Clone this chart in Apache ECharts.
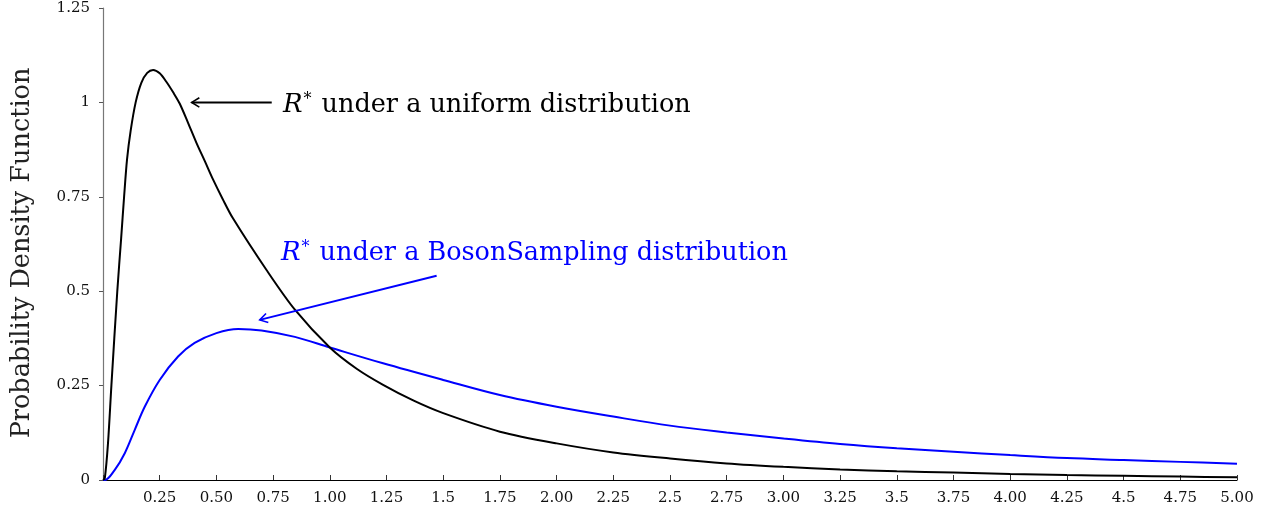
<!DOCTYPE html>
<html>
<head>
<meta charset="utf-8">
<script src="https://cdn.jsdelivr.net/npm/echarts@6/dist/echarts.min.js"></script>
<style>
html,body{margin:0;padding:0;background:#fff;}
#chart{width:1270px;height:515px;}
</style>
</head>
<body>
<div id="chart"></div>
<script>
// ---- data ----
const xTickLabels = ['', '0.25', '0.50', '0.75', '1.00', '1.25', '1.5', '1.75', '2.00', '2.25', '2.5',
  '2.75', '3.00', '3.25', '3.5', '3.75', '4.00', '4.25', '4.5', '4.75', '5.00'];
const yTickLabels = ['0', '0.25', '0.5', '0.75', '1', '1.25'];

// R* under a uniform distribution (black)
const uniformX = [0, 0.008, 0.022, 0.037, 0.063, 0.08, 0.093, 0.106, 0.122, 0.144, 0.169, 0.195, 0.221, 0.25, 0.28,
  0.31, 0.338, 0.375, 0.412, 0.45, 0.485, 0.527, 0.573, 0.721, 0.846, 1.0, 1.12, 1.235, 1.37, 1.5, 1.75, 2.0,
  2.25, 2.5, 2.75, 3.0, 3.25, 3.5, 3.75, 4.0, 4.25, 4.5, 4.75, 5.0];
const uniformY = [0, 0.005, 0.097, 0.25, 0.5, 0.64, 0.75, 0.849, 0.925, 1.0, 1.052, 1.078, 1.086, 1.077, 1.054,
  1.026, 0.997, 0.946, 0.893, 0.843, 0.796, 0.745, 0.693, 0.556, 0.451, 0.351, 0.294, 0.252, 0.21, 0.177,
  0.128, 0.097, 0.073, 0.057, 0.044, 0.035, 0.028, 0.023, 0.020, 0.016, 0.013, 0.011, 0.009, 0.007];

// R* under a BosonSampling distribution (blue)
const bosonX = [0, 0.008, 0.052, 0.096, 0.14, 0.184, 0.25, 0.331, 0.404, 0.5, 0.596, 0.699, 0.846, 1.0, 1.235,
  1.5, 1.75, 2.0, 2.25, 2.5, 2.75, 3.0, 3.25, 3.5, 3.75, 4.0, 4.25, 4.5, 4.75, 5.0];
const bosonY = [0, 0, 0.027, 0.071, 0.133, 0.194, 0.265, 0.327, 0.363, 0.389, 0.40, 0.396, 0.379, 0.351, 0.309,
  0.265, 0.225, 0.194, 0.168, 0.144, 0.126, 0.110, 0.0955, 0.084, 0.075, 0.066, 0.058, 0.053, 0.048, 0.043];

const labelUniform = 'under a uniform distribution';
const labelBoson = 'under a BosonSampling distribution';
const yAxisTitle = 'Probability Density Function';

// annotation arrows in data coordinates: [from, to]
const arrowUniform = [[0.744, 1.0], [0.391, 1.0]];
const arrowBoson = [[1.471, 0.541], [0.691, 0.424]];

const FONT = '"DejaVu Serif", "Liberation Serif", serif';

const chart = echarts.init(document.getElementById('chart'), null, {renderer: 'canvas'});

function pairs(xs, ys) { return xs.map((x, i) => [x, ys[i]]); }

chart.setOption({
  animation: false,
  backgroundColor: '#ffffff',
  grid: {left: 103, right: 33, top: 8, bottom: 35, containLabel: false},
  xAxis: {
    type: 'value', min: 0, max: 5, interval: 0.25,
    axisLine: {lineStyle: {color: '#000', width: 1.2}},
    axisTick: {inside: true, length: 5, lineStyle: {color: '#333', width: 1}},
    splitLine: {show: false},
    axisLabel: {
      margin: 11, color: '#111', fontFamily: FONT, fontSize: 15,
      formatter: (v) => xTickLabels[Math.round(v / 0.25)] || ''
    }
  },
  yAxis: {
    type: 'value', min: 0, max: 1.25, interval: 0.25,
    axisLine: {show: true, lineStyle: {color: '#777', width: 1.2}},
    axisTick: {show: true, length: 4, lineStyle: {color: '#555', width: 1}},
    splitLine: {show: false},
    axisLabel: {
      margin: 13, color: '#111', fontFamily: FONT, fontSize: 15,
      formatter: (v) => yTickLabels[Math.round(v / 0.25)]
    }
  },
  series: [
    {
      name: 'uniform', type: 'line', data: pairs(uniformX, uniformY),
      showSymbol: false, smooth: 0.3,
      lineStyle: {color: '#000', width: 2}, z: 3
    },
    {
      name: 'boson', type: 'line', data: pairs(bosonX, bosonY),
      showSymbol: false, smooth: 0.35,
      lineStyle: {color: '#0000ff', width: 2}, z: 2
    }
  ]
});

function arrowGraphics(arrow, color) {
  const p1 = chart.convertToPixel({gridIndex: 0}, arrow[0]);
  const p2 = chart.convertToPixel({gridIndex: 0}, arrow[1]);
  const ang = Math.atan2(p1[1] - p2[1], p1[0] - p2[0]);
  const L = 9, W = 0.55;
  const a = [p2[0] + L * Math.cos(ang + W), p2[1] + L * Math.sin(ang + W)];
  const b = [p2[0] + L * Math.cos(ang - W), p2[1] + L * Math.sin(ang - W)];
  return [
    {type: 'line', shape: {x1: p1[0], y1: p1[1], x2: p2[0], y2: p2[1]},
     style: {stroke: color, lineWidth: 2}, z: 10},
    {type: 'polyline', shape: {points: [a, p2, b]},
     style: {stroke: color, lineWidth: 1.6, fill: null}, z: 10}
  ];
}

function richLabel(color) {
  return {
    r: {fontFamily: FONT, fontStyle: 'italic', fontSize: 26, fill: color},
    s: {fontFamily: FONT, fontSize: 16, fill: color, verticalAlign: 'top', padding: [0, 10, 11, 1]},
    t: {fontFamily: FONT, fontSize: 25.5, fill: color}
  };
}

chart.setOption({
  graphic: [
    ...arrowGraphics(arrowUniform, '#000'),
    ...arrowGraphics(arrowBoson, '#0000ff'),
    {type: 'text', left: 283, top: 92, z: 10,
     style: {text: '{r|R}{s|*}{t|' + labelUniform + '}', rich: richLabel('#000')}},
    {type: 'text', left: 281, top: 240, z: 10,
     style: {text: '{r|R}{s|*}{t|' + labelBoson + '}', rich: richLabel('#0000ff')}},
    {type: 'text', x: 22, y: 253, rotation: Math.PI / 2, z: 10,
     style: {text: yAxisTitle, fontFamily: FONT, fontSize: 25.5, fill: '#222',
             align: 'center', verticalAlign: 'middle'}}
  ]
});
</script>
</body>
</html>
